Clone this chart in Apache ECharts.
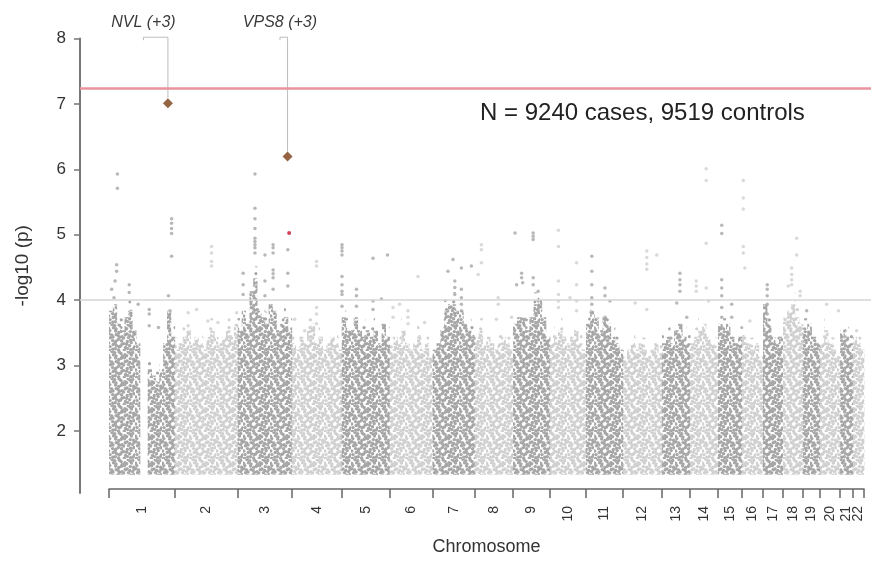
<!DOCTYPE html>
<html lang="en">
<head>
<meta charset="UTF-8">
<title>Manhattan plot</title>
<style>
    html, body { margin: 0; padding: 0; background: #fff; }
    #chart { width: 871px; height: 561px; }
</style>
</head>
<body>
<div id="chart"></div>
<script src="https://cdn.jsdelivr.net/npm/echarts@6/dist/echarts.min.js"></script>
<script>
    // chromosomes and the span (Mb) each one takes on the axis
    var chrNames = ['1', '2', '3', '4', '5', '6', '7', '8', '9', '10', '11',
        '12', '13', '14', '15', '16', '17', '18', '19', '20', '21', '22'];
    var chrLengths = [250, 240, 205, 190, 182, 164, 160, 145, 141, 137, 141,
        148, 107, 106, 91, 80, 76, 76, 65, 76, 49, 42];

    // the dense bulk of SNPs: lowest value and top of the cloud, in equal bins per chromosome
    var bandBase = 1.3;
    var bandTops = [
        [3.8, 3.9, 3.6, 3.5, 3.7, 3.8, 3.5, 3.3, 0, 0, 2.9, 2.8, 2.7, 2.9, 3.3, 3.8, 3.4],
        [3.2, 3.3, 3.4, 3.5, 3.3, 3.4, 3.3, 3.2, 3.4, 3.5, 3.4, 3.3, 3.4, 3.5, 3.4, 3.6],
        [3.5, 3.8, 3.6, 4.1, 4.3, 3.8, 3.7, 3.6, 3.9, 3.8, 3.5, 3.6, 3.7, 3.5],
        [3.3, 3.2, 3.4, 3.3, 3.5, 3.6, 3.3, 3.4, 3.2, 3.3, 3.4, 3.3, 3.2],
        [3.7, 3.5, 3.5, 3.7, 3.5, 3.4, 3.5, 3.4, 3.5, 3.3, 3.6, 3.4],
        [3.2, 3.4, 3.3, 3.5, 3.3, 3.2, 3.3, 3.4, 3.2, 3.3, 3.1],
        [3.2, 3.3, 3.5, 3.8, 3.9, 3.9, 3.8, 3.8, 3.6, 3.5, 3.4],
        [3.4, 3.5, 3.3, 3.4, 3.3, 3.2, 3.3, 3.4, 3.3, 3.2],
        [3.6, 3.7, 3.7, 3.5, 3.7, 3.9, 4.0, 3.7, 3.4],
        [3.3, 3.4, 3.5, 3.4, 3.3, 3.4, 3.5, 3.3, 3.2],
        [3.6, 3.8, 3.7, 3.5, 3.7, 3.6, 3.4, 3.3, 3.2],
        [3.1, 3.2, 3.3, 3.2, 3.3, 3.2, 3.1, 3.2, 3.3, 3.1],
        [3.3, 3.4, 3.3, 3.5, 3.6, 3.4, 3.3],
        [3.3, 3.4, 3.5, 3.6, 3.4, 3.3, 3.2],
        [3.6, 3.5, 3.6, 3.4, 3.3, 3.4],
        [3.4, 3.3, 3.2, 3.3, 3.1],
        [3.9, 3.6, 3.4, 3.3, 3.4],
        [3.7, 3.8, 3.9, 3.7, 3.6],
        [3.5, 3.6, 3.4, 3.3],
        [3.3, 3.5, 3.3, 3.2, 3.1],
        [3.5, 3.4, 3.3],
        [3.4, 3.3, 3.2]
    ];

    // individual SNPs standing out above the cloud: [chromosome, position Mb, -log10 p]
    var snps = [
        [1, 32, 5.91], [1, 32, 5.69], [1, 29, 4.51], [1, 29, 4.41], [1, 23, 4.26], [1, 10, 4.13], [1, 19, 4.0],
        [1, 77, 4.2], [1, 77, 4.08], [1, 111, 3.9], [1, 153, 3.82], [1, 153, 3.75], [1, 153, 3.57], [1, 188, 3.54],
        [1, 226, 4.03], [1, 232, 3.8], [1, 238, 5.22], [1, 238, 5.15], [1, 238, 5.07], [1, 238, 4.99], [1, 238, 4.64],
        [2, 140, 4.79], [2, 140, 4.69], [2, 140, 4.56], [2, 140, 4.49], [2, 83, 3.82], [2, 51, 3.77], [2, 51, 3.57],
        [2, 126, 3.64], [2, 164, 3.62], [2, 235, 3.77],
        [3, 65, 5.91], [3, 65, 5.38], [3, 65, 5.22], [3, 65, 5.07], [3, 65, 4.92], [3, 65, 4.87], [3, 65, 4.82],
        [3, 65, 4.77], [3, 65, 4.69], [3, 103, 4.66], [3, 103, 4.26], [3, 103, 4.03], [3, 134, 4.82], [3, 134, 4.77],
        [3, 134, 4.69], [3, 134, 4.43], [3, 134, 4.37], [3, 134, 4.31], [3, 134, 4.13], [3, 190, 4.74], [3, 190, 4.38],
        [3, 190, 4.18], [3, 20, 4.38], [3, 20, 4.2], [3, 20, 4.05],
        [4, 94, 4.56], [4, 94, 4.49], [4, 94, 3.85], [4, 94, 3.75], [4, 94, 3.6], [4, 11, 3.67], [4, 49, 3.49], [4, 157, 3.36],
        [5, 1, 4.82], [5, 1, 4.77], [5, 1, 4.72], [5, 1, 4.66], [5, 1, 4.33], [5, 1, 4.2], [5, 1, 4.1], [5, 1, 4.05],
        [5, 1, 3.87], [5, 56, 4.13], [5, 56, 4.03], [5, 56, 3.87], [5, 119, 4.61], [5, 119, 3.95], [5, 119, 3.82],
        [5, 174, 4.66], [5, 151, 3.98],
        [6, 38, 3.9], [6, 108, 4.33], [6, 13, 3.85], [6, 13, 3.7], [6, 70, 3.8], [6, 70, 3.7], [6, 70, 3.6], [6, 133, 3.62],
        [7, 58, 4.41], [7, 77, 4.59], [7, 84, 4.26], [7, 84, 4.16], [7, 84, 4.05], [7, 109, 4.46], [7, 109, 4.13],
        [7, 109, 4.0], [7, 109, 3.9], [7, 109, 3.8], [7, 147, 4.49],
        [8, 25, 4.82], [8, 25, 4.74], [8, 25, 4.54], [8, 13, 4.36], [8, 89, 4.0], [8, 89, 3.9], [8, 82, 3.67], [8, 140, 3.7],
        [9, 8, 5.0], [9, 14, 4.2], [9, 33, 4.38], [9, 33, 4.31], [9, 37, 4.23], [9, 77, 5.0], [9, 77, 4.95], [9, 77, 4.9],
        [9, 77, 4.31], [9, 77, 4.2], [9, 96, 4.1], [9, 96, 3.95], [9, 96, 3.8],
        [10, 32, 5.04], [10, 32, 4.79], [10, 32, 4.26], [10, 32, 4.05], [10, 32, 3.95], [10, 32, 3.85], [10, 101, 4.54],
        [10, 101, 4.2], [10, 101, 3.95], [10, 101, 3.8], [10, 76, 4.0],
        [11, 22, 4.64], [11, 22, 4.41], [11, 22, 4.2], [11, 22, 4.0], [11, 22, 3.9], [11, 22, 3.77], [11, 72, 4.15],
        [11, 72, 4.03], [11, 72, 3.7], [11, 91, 3.95],
        [12, 46, 3.92], [12, 90, 4.72], [12, 90, 4.62], [12, 90, 4.52], [12, 90, 4.44], [12, 90, 3.82], [12, 128, 4.66],
        [13, 68, 4.38], [13, 68, 4.28], [13, 68, 4.2], [13, 68, 4.1], [13, 56, 3.92], [13, 94, 3.7],
        [14, 61, 5.99], [14, 61, 5.81], [14, 61, 4.84], [14, 61, 4.15], [14, 23, 4.26], [14, 23, 4.18], [14, 23, 4.1], [14, 70, 3.95],
        [15, 14, 5.12], [15, 14, 4.99], [15, 14, 4.28], [15, 14, 4.15], [15, 14, 4.03], [15, 14, 3.85], [15, 14, 3.7],
        [15, 14, 3.55], [15, 52, 3.9], [15, 52, 3.7],
        [16, 5, 5.81], [16, 5, 5.54], [16, 5, 5.37], [16, 5, 4.79], [16, 5, 4.69], [16, 11, 4.46], [16, 30, 3.64],
        [17, 16, 4.2], [17, 16, 4.13], [17, 16, 4.03], [17, 16, 3.9], [17, 16, 3.75],
        [18, 52, 4.92], [18, 52, 4.66], [18, 33, 4.46], [18, 33, 4.36], [18, 33, 4.28], [18, 33, 4.2], [18, 20, 4.18],
        [18, 65, 4.1], [18, 65, 4.03],
        [19, 14, 3.8], [20, 25, 3.9], [20, 70, 3.8], [21, 19, 3.49], [21, 19, 3.4], [22, 14, 3.49]
    ];

    // annotated lead SNPs and the highlighted one
    var leadSnps = [
        {name: 'NVL (+3)', chr: 1, pos: 224, p: 7.0, labelPos: 131},
        {name: 'VPS8 (+3)', chr: 3, pos: 189, p: 6.18, labelPos: 160}
    ];
    var redSnps = [[3, 195, 5.0]];

    var genomeWideLine = 7.24;
    var suggestiveLine = 4;
    var yTicks = [2, 3, 4, 5, 6, 7, 8];
    var caption = 'N = 9240 cases, 9519 controls';

    var FONT = 'Liberation Sans, Arial, Helvetica, sans-serif';
    var DARK = '#a6a6a6', LIGHT = '#d0d0d0';

    var starts = [], total = 0;
    chrLengths.forEach(function (len) {
        starts.push(total);
        total += len;
    });
    var gx = function (chr, pos) {
        return starts[chr - 1] + pos;
    };
    var bounds = starts.concat([total]);
    var centers = starts.map(function (s, i) {
        return s + chrLengths[i] / 2;
    });
    var chrLabel = function (v) {
        for (var i = 0; i < centers.length; i++) {
            if (Math.abs(centers[i] - v) < 0.01) return chrNames[i];
        }
        return '';
    };

    var bandData = [];
    bandTops.forEach(function (tops, i) {
        var w = chrLengths[i] / tops.length;
        tops.forEach(function (t, j) {
            if (t > bandBase) {
                bandData.push([starts[i] + j * w, starts[i] + (j + 1) * w, t, i % 2]);
            }
        });
    });

    var snpData = snps.map(function (d) {
        return [gx(d[0], d[1]), d[2], (d[0] - 1) % 2];
    });

    // texture tiles: jittered dot grid with a few holes, so the cloud reads as overlapping points
    var jitter = [0.7, -0.9, 0.3, -0.5, 1.0, -0.2, -0.8, 0.5, 0.1];
    var texture = function (color, step, r, holeEvery) {
        var size = 27;
        var c = document.createElement('canvas');
        c.width = size;
        c.height = size;
        var ctx = c.getContext('2d');
        ctx.fillStyle = color;
        var n = size / step;
        for (var i = 0; i < n; i++) {
            for (var j = 0; j < n; j++) {
                if ((i * 7 + j * 4) % holeEvery === 0) continue;
                ctx.beginPath();
                ctx.arc(i * step + step / 2 + jitter[(i * 3 + j) % 9],
                    j * step + step / 2 + jitter[(i + j * 5) % 9], r, 0, Math.PI * 2);
                ctx.fill();
            }
        }
        return {image: c, repeat: 'repeat'};
    };
    var fills = [texture(DARK, 3, 1.7, 5), texture(LIGHT, 3, 1.7, 5)];
    var fringes = [texture(DARK, 9, 1.6, 4), texture(LIGHT, 9, 1.6, 4)];

    var gridTop = 38.5, gridBottom = 68, yMin = 1.05, yMax = 8;
    var labelStyle = {rotate: 90, margin: 17, fontFamily: FONT, fontSize: 14, color: '#333', formatter: chrLabel};

    var option = {
        animation: false,
        title: {
            text: caption,
            left: 475,
            top: 96,
            textStyle: {fontFamily: FONT, fontSize: 24, fontWeight: 'normal', color: '#222'}
        },
        grid: [
            {left: 80, right: 0, top: gridTop, bottom: gridBottom},
            {left: 109, right: 7, top: gridTop, bottom: gridBottom}
        ],
        xAxis: [
            {gridIndex: 0, type: 'value', min: 0, max: 1, show: false},
            {
                gridIndex: 1, type: 'value', min: 0, max: total,
                name: 'Chromosome', nameLocation: 'middle', nameGap: 49,
                nameTextStyle: {fontFamily: FONT, fontSize: 18, color: '#333'},
                axisLine: {show: true, lineStyle: {color: '#666', width: 1.5}},
                axisTick: {show: true, customValues: bounds, length: 9, lineStyle: {color: '#666', width: 1.5}},
                axisLabel: Object.assign({customValues: centers.slice(0, 21)}, labelStyle),
                splitLine: {show: false}
            },
            {
                // the last, crowded label sits on its own axis so it is not dropped
                gridIndex: 1, type: 'value', min: 0, max: total, position: 'bottom',
                axisLine: {show: false}, axisTick: {show: false}, splitLine: {show: false},
                axisLabel: Object.assign({customValues: centers.slice(21)}, labelStyle)
            }
        ],
        yAxis: [
            {
                gridIndex: 0, type: 'value', min: yMin, max: yMax,
                name: '-log10 (p)', nameLocation: 'middle', nameGap: 48, nameRotate: 90,
                nameTextStyle: {fontFamily: FONT, fontSize: 19, color: '#333'},
                axisLine: {show: true, lineStyle: {color: '#777', width: 2}},
                axisTick: {show: true, customValues: yTicks, length: 6, lineStyle: {color: '#777', width: 1.5}},
                axisLabel: {customValues: yTicks, margin: 14, fontFamily: FONT, fontSize: 17, color: '#333'},
                splitLine: {show: false}
            },
            {gridIndex: 1, type: 'value', min: yMin, max: yMax, show: false}
        ],
        series: [
            {
                type: 'line', xAxisIndex: 0, yAxisIndex: 0, data: [], z: 1,
                markLine: {
                    silent: true, symbol: 'none', label: {show: false},
                    data: [
                        {yAxis: suggestiveLine, lineStyle: {color: '#d6d6d6', width: 1.5, type: 'solid'}},
                        {yAxis: genomeWideLine, lineStyle: {color: '#e8939c', width: 2.5, type: 'solid'}}
                    ]
                }
            },
            {
                type: 'custom', xAxisIndex: 1, yAxisIndex: 1, z: 2,
                data: bandData,
                encode: {x: [0, 1], y: 2},
                renderItem: function (params, api) {
                    var p0 = api.coord([api.value(0), bandBase]);
                    var p1 = api.coord([api.value(1), api.value(2)]);
                    var k = api.value(3);
                    var w = p1[0] - p0[0] + 0.4;
                    return {
                        type: 'group',
                        children: [
                            {
                                type: 'rect',
                                shape: {x: p0[0], y: p1[1], width: w, height: p0[1] - p1[1] + 2},
                                style: {fill: fills[k]}
                            },
                            {
                                type: 'rect',
                                shape: {x: p0[0], y: p1[1] - 12, width: w, height: 12},
                                style: {fill: fringes[k]}
                            }
                        ]
                    };
                }
            },
            {
                type: 'scatter', xAxisIndex: 1, yAxisIndex: 1, z: 3,
                symbolSize: 3.5,
                data: snpData,
                itemStyle: {
                    color: function (p) {
                        return p.data[2] ? LIGHT : DARK;
                    }
                }
            },
            {
                type: 'custom', xAxisIndex: 1, yAxisIndex: 1, z: 4, clip: false,
                data: leadSnps.map(function (d) {
                    return [gx(d.chr, d.pos), d.p, gx(d.chr, d.labelPos), d.name];
                }),
                renderItem: function (params, api) {
                    var pt = api.coord([api.value(0), api.value(1)]);
                    var elbow = api.coord([api.value(0), 8.02]);
                    var lab = api.coord([api.value(2), 8.25]);
                    return {
                        type: 'group',
                        children: [
                            {
                                type: 'polyline',
                                shape: {points: [[pt[0], pt[1] - 5], [pt[0], elbow[1]], [lab[0], elbow[1]], [lab[0], elbow[1] + 3]]},
                                style: {stroke: '#bdbdbd', lineWidth: 1, fill: null}
                            },
                            {
                                type: 'text',
                                x: lab[0], y: lab[1],
                                style: {
                                    text: api.value(3), fill: '#3a3a3a',
                                    font: 'italic 16px ' + FONT,
                                    align: 'center', verticalAlign: 'middle'
                                }
                            }
                        ]
                    };
                }
            },
            {
                type: 'scatter', xAxisIndex: 1, yAxisIndex: 1, z: 5,
                symbol: 'diamond', symbolSize: 10,
                data: leadSnps.map(function (d) {
                    return [gx(d.chr, d.pos), d.p];
                }),
                itemStyle: {color: '#7a3d14'}
            },
            {
                type: 'scatter', xAxisIndex: 1, yAxisIndex: 1, z: 5,
                symbolSize: 4,
                data: redSnps.map(function (d) {
                    return [gx(d[0], d[1]), d[2]];
                }),
                itemStyle: {color: '#c8102e'}
            }
        ]
    };

    var myChart = echarts.init(document.getElementById('chart'));
    myChart.setOption(option);
</script>
</body>
</html>
